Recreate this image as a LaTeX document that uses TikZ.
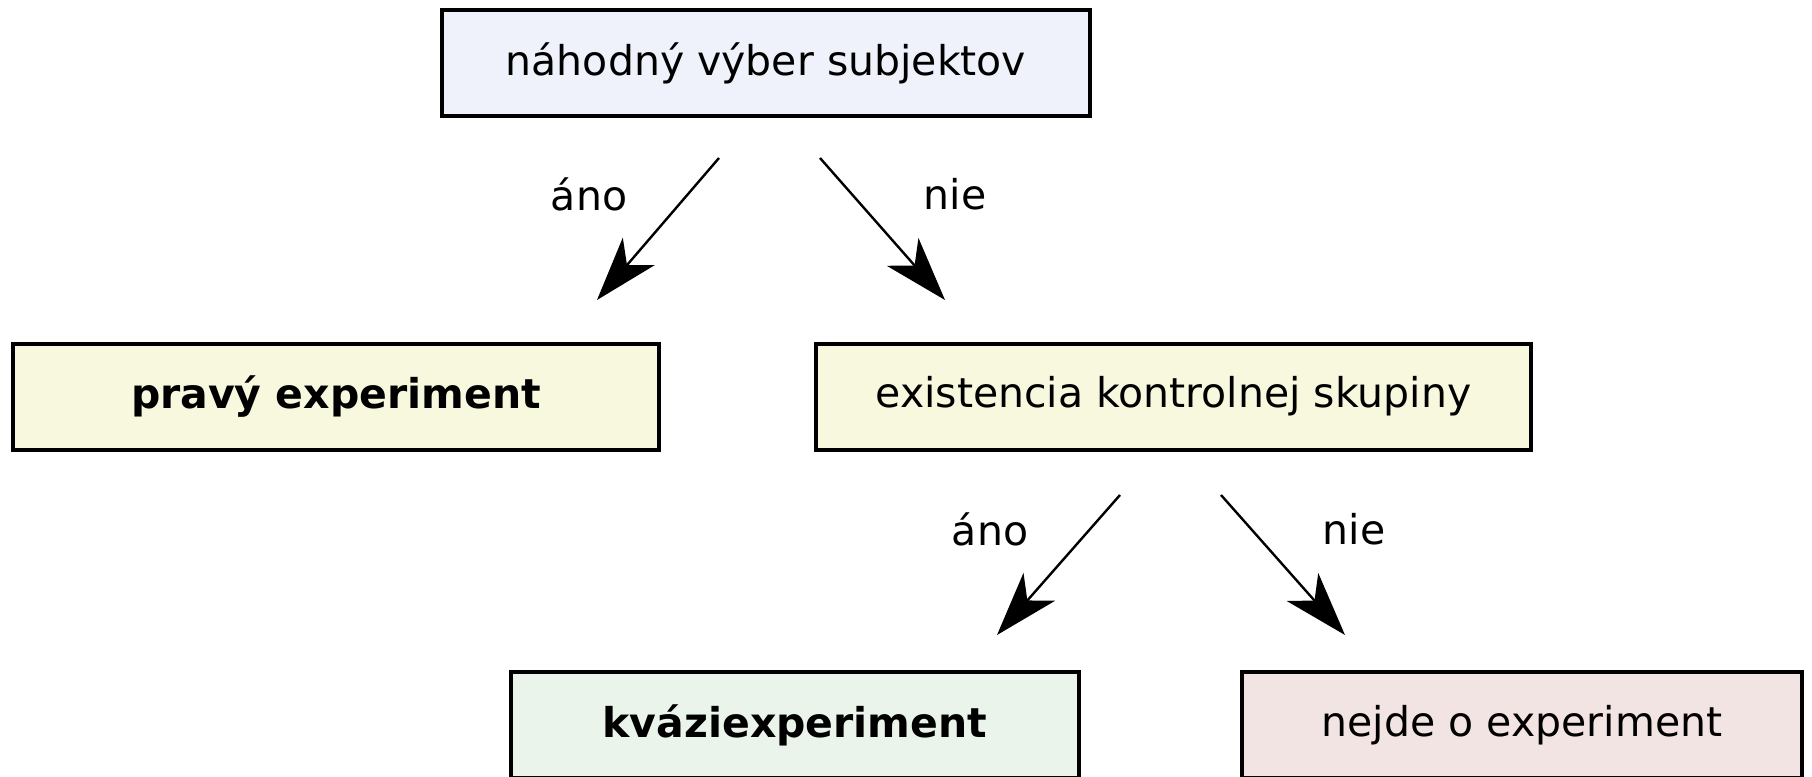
\documentclass[tikz,border=0pt]{standalone}
\usepackage{fontspec}
\setmainfont{DejaVu Sans}
\usepackage{tikz}
\usetikzlibrary{arrows.meta,positioning}
\definecolor{boxblue}{RGB}{239,242,250}
\definecolor{boxyellow}{RGB}{248,248,222}
\definecolor{boxgreen}{RGB}{234,244,234}
\definecolor{boxred}{RGB}{242,228,226}

\begin{document}
\begin{tikzpicture}[
  x=0.5pt, y=-0.5pt,
  font=\fontsize{20.5pt}{24pt}\selectfont,
  q/.style={draw, line width=2pt, align=center, inner sep=0pt,
  minimum height=53pt},
  lbl/.style={inner sep=0pt},
  arrow/.style={-{Stealth[length=32pt,width=21pt,inset=9pt]}, line width=1.2pt}]
\useasboundingbox (0,0) rectangle (1812,777);
\node[q, fill=boxblue, minimum width=324pt] (select) at (766,63) {náhodný výber subjektov};
\node[q, fill=boxyellow, minimum width=323pt, font=\fontsize{20.5pt}{24pt}\selectfont\bfseries] (true) at (336,396.5) {pravý experiment};
\node[q, fill=boxyellow, minimum width=357.5pt] (control) at (1173.5,396.5) {existencia kontrolnej skupiny};
\node[q, fill=boxgreen, minimum width=284pt, font=\fontsize{20.5pt}{24pt}\selectfont\bfseries] (quasi) at (795,725) {kváziexperiment};
\node[q, fill=boxred, minimum width=280pt] (none) at (1522,725) {nejde o experiment};
% arrow ends
\coordinate (s1) at (719,158); \coordinate (e1) at (597,300);
\coordinate (s2) at (820,158); \coordinate (e2) at (945,300);
\coordinate (s3) at (1120,495); \coordinate (e3) at (997,635);
\coordinate (s4) at (1221,495); \coordinate (e4) at (1345,635);
\draw[arrow] (s1) -- (e1);
\draw[arrow] (s2) -- (e2);
\draw[arrow] (s3) -- (e3);
\draw[arrow] (s4) -- (e4);
\node[lbl] (yes1) at (589,194) {áno};
\node[lbl] (no1) at (955,194) {nie};
\node[lbl] (yes2) at (990,529) {áno};
\node[lbl] (no2) at (1354,529) {nie};
\end{tikzpicture}
\end{document}
